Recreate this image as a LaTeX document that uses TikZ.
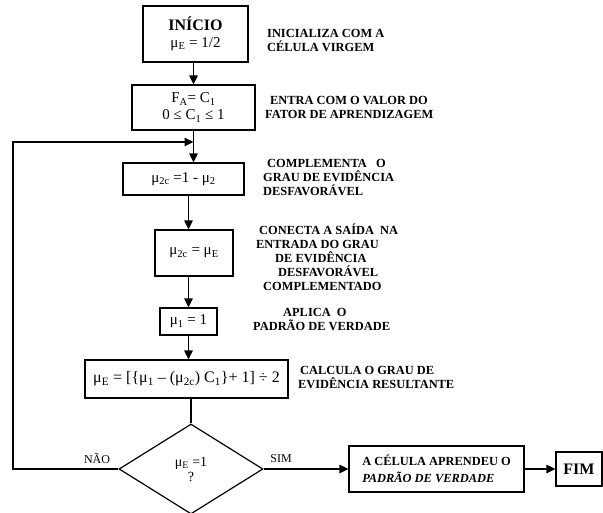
\documentclass[tikz,border=0pt]{standalone}
\usepackage{fontspec}
\setmainfont{Liberation Serif}
\usetikzlibrary{arrows.meta,shapes.geometric}
\newcommand\sbx[1]{\textsubscript{#1}}
\begin{document}
\begin{tikzpicture}[x=1pt,y=1pt,
  box/.style={draw, line width=1.2pt, inner sep=0pt, align=center, font=\fontsize{15}{17}\selectfont},
  lbl/.style={anchor=west, align=left, inner sep=0pt, font=\bfseries\fontsize{12.4}{14}\selectfont},
  arr/.style={line width=1.2pt, -{Triangle[length=9pt,width=8.5pt]}},
  ln/.style={line width=1.2pt},
  yn/.style={inner sep=0pt, font=\fontsize{12}{14}\selectfont}]
\useasboundingbox (0,0) rectangle (603,-512);
% boxes
\node[box, minimum width=105pt, minimum height=56pt] (inicio) at (195.5,-34)
  {{\bfseries\fontsize{16}{19}\selectfont INÍCIO}\\ μ\sbx{E} = 1/2};
\node[box, minimum width=123pt, minimum height=45pt] (fa) at (193.5,-107.5)
  {F\sbx{A}= C\sbx{1}\\ 0 ≤ C\sbx{1} ≤ 1};
\node[box, minimum width=121pt, minimum height=32pt] (comp) at (183.5,-179)
  {μ\sbx{2c} =1 - μ\sbx{2}};
\node[box, minimum width=78pt, minimum height=46pt] (conn) at (194,-253)
  {μ\sbx{2c} = μ\sbx{E}};
\node[box, minimum width=57pt, minimum height=27pt] (mu1) at (188.5,-321.5)
  {μ\sbx{1} = 1};
\node[box, minimum width=203pt, minimum height=38pt, font=\fontsize{16}{18}\selectfont] (calc) at (186.5,-379)
  {μ\sbx{E} = [\{μ\sbx{1} – (μ\sbx{2c}) C\sbx{1}\}+ 1] ÷ 2};
\node[draw, diamond, line width=1.2pt, inner sep=0pt, minimum width=144pt, minimum height=90pt,
  align=center, font=\fontsize{14}{15}\selectfont] (dec) at (191,-469)
  {μ\sbx{E} =1\\ ?};
\node[box, minimum width=175pt, minimum height=46pt, align=left] (learn) at (436.5,-469)
  {\fontsize{12.4}{14}\selectfont\bfseries A CÉLULA APRENDEU O\\ \fontsize{12.4}{14}\selectfont\bfseries\itshape PADRÃO DE VERDADE};
\node[box, minimum width=46pt, minimum height=34pt, font=\bfseries\fontsize{16}{18}\selectfont] (fim) at (579,-469)
  {FIM};
% labels
\node[lbl] (l1) at (267,-40) {INICIALIZA COM A\\ CÉLULA VIRGEM};
\node[lbl] (l2) at (265,-107) {\hspace*{5pt}ENTRA COM O VALOR DO\\ FATOR DE APRENDIZAGEM};
\node[lbl] (l3) at (263,-177) {\hspace*{4pt}COMPLEMENTA\ \ \ O\\ GRAU DE EVIDÊNCIA\\ DESFAVORÁVEL};
\node[lbl] (l4) at (256,-257.5) {\hspace*{3pt}CONECTA A SAÍDA\ \ NA\\ ENTRADA DO GRAU\\ \hspace*{19pt}DE EVIDÊNCIA\\ \hspace*{22pt}DESFAVORÁVEL\\ \hspace*{7pt}COMPLEMENTADO};
\node[lbl] (l5) at (253,-319.5) {\hspace*{30pt}APLICA\ \ O\\ PADRÃO DE VERDADE};
\node[lbl] (l6) at (298,-377) {\hspace*{2pt}CALCULA O GRAU DE\\ EVIDÊNCIA RESULTANTE};
\node[yn] (nao) at (97,-459) {NÃO};
\node[yn] (sim) at (281,-459) {SIM};
% connectors
\coordinate (fbl) at (13,-469);
\coordinate (fbt) at (13,-142);
\draw[arr] (fa.north |- inicio.south) -- (fa.north);
\draw[arr] (fa.south) -- (fa.south |- comp.north);
\draw[arr] (dec.west) -- (fbl) -- (fbt) -- (fbt -| fa.south);
\draw[arr] (mu1.north |- comp.south) -- (mu1.north |- conn.north);
\draw[arr] (mu1.north |- conn.south) -- (mu1.north);
\draw[arr] (mu1.south) -- (mu1.south |- calc.north);
\draw[ln] (dec.north |- calc.south) -- (dec.north);
\draw[arr] (dec.east) -- (learn.west);
\draw[arr] (learn.east) -- (fim.west);
\end{tikzpicture}
\end{document}
